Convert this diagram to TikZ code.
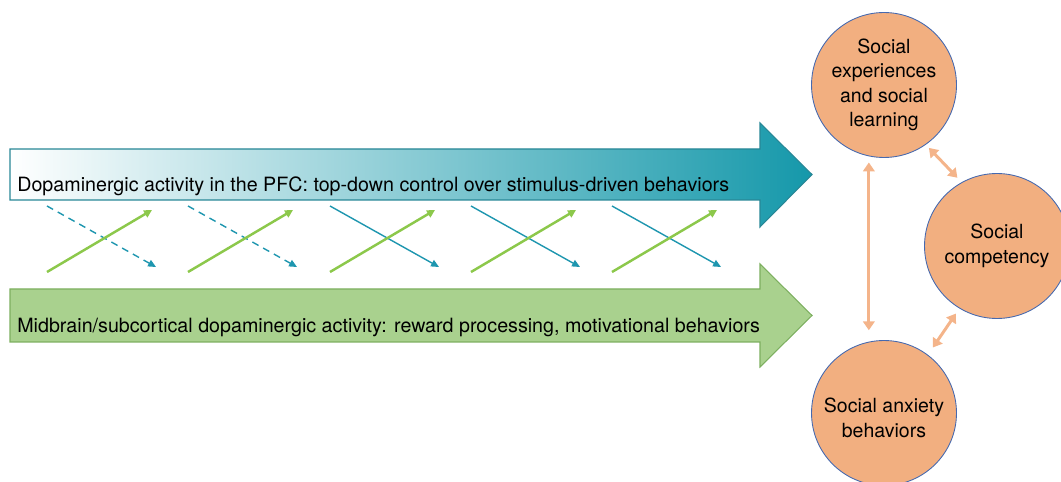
\documentclass[tikz,border=0pt]{standalone}
\usepackage{fontspec}
\setmainfont{TeX Gyre Heros}
\usetikzlibrary{arrows.meta}
\definecolor{tealdark}{RGB}{21,152,170}
\definecolor{tealedge}{RGB}{40,135,150}
\definecolor{tealline}{RGB}{30,150,175}
\definecolor{greenline}{RGB}{140,200,75}
\definecolor{greenfill}{RGB}{169,209,142}
\definecolor{greenedge}{RGB}{125,175,95}
\definecolor{peach}{RGB}{242,175,128}
\definecolor{peachline}{RGB}{244,180,138}
\definecolor{circleedge}{RGB}{70,105,175}
\tikzset{
  bandtext/.style={anchor=base west, inner sep=0pt, font=\fontsize{11.2}{13}\selectfont},
  topic/.style={circle, fill=peach, draw=circleedge, line width=0.5pt,
    minimum size=2.9cm, inner sep=0pt, align=center,
    font=\fontsize{11.1}{13.9}\selectfont},
  linkarrow/.style={draw=peachline, line width=1.7pt,
    {Triangle[width=6.5pt,length=5pt]}-{Triangle[width=6.5pt,length=5pt]}},
  upcross/.style={draw=greenline, line width=1.4pt,
    -{Triangle[width=4.5pt,length=4.5pt]}},
  downcross/.style={draw=tealline, line width=0.8pt,
    -{Triangle[width=4pt,length=4.5pt]}},
}
\begin{document}
\begin{tikzpicture}[x=0.02cm, y=-0.02cm]
\useasboundingbox (0,0) rectangle (1061,482);
\clip (0,0) rectangle (1061,482);

% PFC band: white-to-teal shaded block arrow
\shade[left color=white, middle color=tealdark!45!white, right color=tealdark]
  (10,149) -- (760,149) -- (760,123) -- (812,174.5) -- (760,227) -- (760,200) -- (10,200) -- cycle;
\draw[tealedge, line width=0.6pt]
  (10,149) -- (760,149) -- (760,123) -- (812,174.5) -- (760,227) -- (760,200) -- (10,200) -- cycle;
\node[bandtext] (pfc) at (17,192)
  {Dopaminergic activity in the PFC: top-down control over stimulus-driven behaviors};

% midbrain band: green block arrow
\draw[fill=greenfill, draw=greenedge, line width=0.6pt]
  (10,289) -- (760,289) -- (760,264) -- (812,315.5) -- (760,367) -- (760,342) -- (10,342) -- cycle;
\node[bandtext] (mid) at (17,333)
  {Midbrain/subcortical dopaminergic activity: reward processing, motivational behaviors};

% crossing interactions between the two bands
\foreach \i/\dx in {1/0, 2/141, 3/283, 4/424, 5/565} {
  \coordinate (gs\i) at (47+\dx,272);
  \coordinate (ge\i) at (152+\dx,210);
  \coordinate (ts\i) at (47+\dx,206);
  \coordinate (te\i) at (156+\dx,267);
}
\foreach \i in {1,2} {
  \draw[downcross, dash pattern=on 4pt off 3pt] (ts\i) -- (te\i);
}
\foreach \i in {3,4,5} {
  \draw[downcross] (ts\i) -- (te\i);
}
\foreach \i in {1,...,5} {
  \draw[upcross] (gs\i) -- (ge\i);
}

% social outcome circles
\node[topic] (learn) at (884,85) {Social\\experiences\\and social\\learning};
\node[topic] (comp) at (997,246) {Social\\competency};
\node[topic, text depth=0pt] (anx) at (884,413) {};
\node[align=center, inner sep=0pt, font=\fontsize{11.1}{13.9}\selectfont]
  (anxtext) at (884,418) {Social anxiety\\behaviors};

% reciprocal links
\draw[linkarrow, shorten <=3.5pt, shorten >=6.5pt] (learn.-102.7) -- (anx.102.7);
\draw[linkarrow, shorten <=2.5pt, shorten >=3.5pt] (learn.-55) -- (comp.119);
\draw[linkarrow, shorten <=3.5pt, shorten >=5pt] (comp.239) -- (anx.53.4);
\end{tikzpicture}
\end{document}
